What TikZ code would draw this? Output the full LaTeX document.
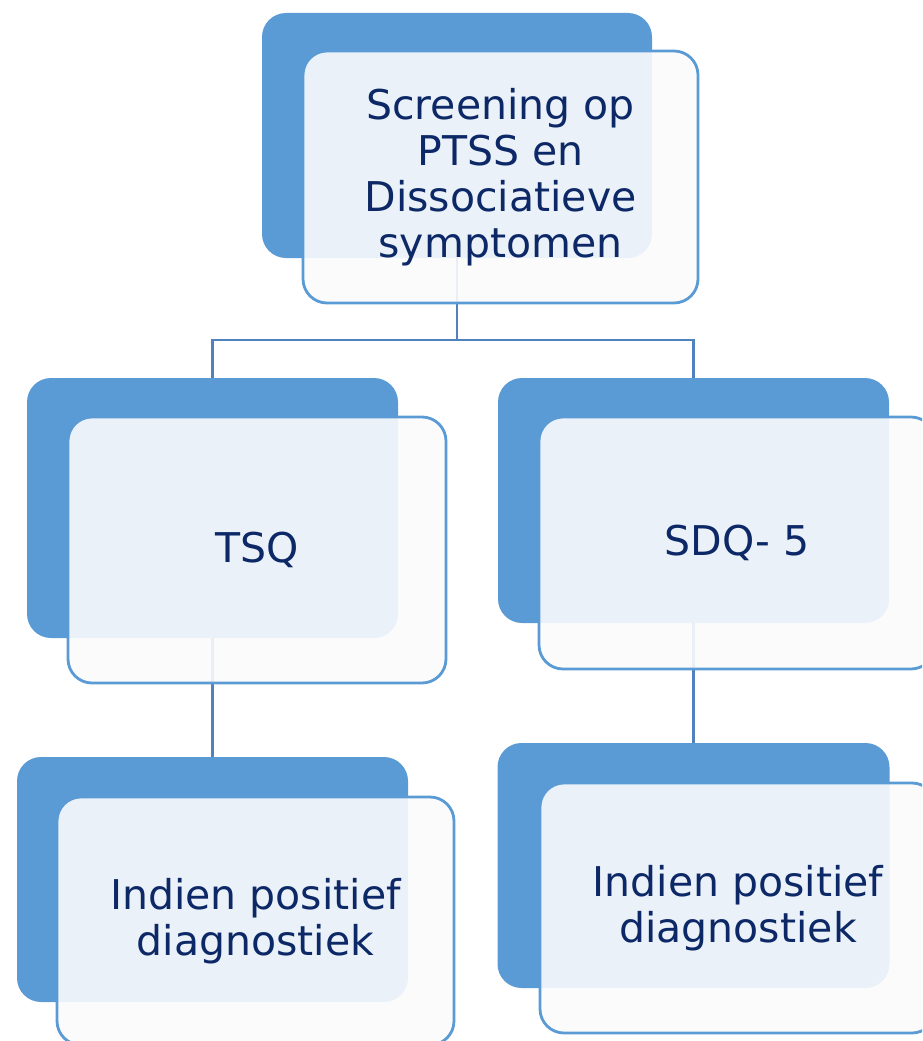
\documentclass[tikz,border=0pt]{standalone}
\usepackage{fontspec}
\setmainfont{DejaVu Sans}
\definecolor{backblue}{RGB}{91,155,213}
\definecolor{edgeblue}{RGB}{91,155,213}
\definecolor{linkblue}{RGB}{80,130,190}
\definecolor{frontfill}{RGB}{251,251,252}
\definecolor{navy}{RGB}{12,40,102}
\begin{document}
\begin{tikzpicture}[x=1pt,y=-1pt,
  backbox/.style={rectangle, rounded corners=24pt, fill=backblue, inner sep=0pt, draw=none},
  frontbox/.style={rectangle, rounded corners=24pt, fill=frontfill, fill opacity=0.9, text opacity=1,
    draw=edgeblue, line width=2.8pt, inner sep=0pt, align=center, text=navy,
    font=\fontsize{41pt}{46pt}\selectfont},
  link/.style={draw=linkblue, line width=2.8pt}]
\useasboundingbox (0,0) rectangle (922,1041);
\clip (0,0) rectangle (922,1041);
% back boxes
\node[backbox, minimum width=390pt, minimum height=245pt] (topB) at (457,135.5) {};
\node[backbox, minimum width=371pt, minimum height=260pt] (tsqB) at (212.5,508) {};
\node[backbox, minimum width=391pt, minimum height=245pt] (sdqB) at (693.5,500.5) {};
\node[backbox, minimum width=391pt, minimum height=245pt] (blB) at (212.5,879.5) {};
\node[backbox, minimum width=392pt, minimum height=245pt] (brB) at (693.5,865.5) {};
% connectors
\coordinate (j) at (457,340);
\draw[link] (topB.south) -- (j) -| (tsqB.north);
\draw[link] (j) -| (sdqB.north);
\draw[link] (tsqB.south) -- (blB.north);
\draw[link] (sdqB.south) -- (brB.north);
% front boxes
\node[frontbox, minimum width=395pt, minimum height=252pt] (top) at (500.5,177)
  {Screening op\\PTSS en\\Dissociatieve\\symptomen};
\node[frontbox, minimum width=378pt, minimum height=266pt] (tsq) at (257,550) {TSQ};
\node[frontbox, minimum width=396pt, minimum height=252pt] (sdq) at (737,543) {SDQ- 5};
\node[frontbox, minimum width=397pt, minimum height=248pt] (bl) at (255.5,921)
  {Indien positief\\diagnostiek};
\node[frontbox, minimum width=396pt, minimum height=250pt] (br) at (738,908)
  {Indien positief\\diagnostiek};
\end{tikzpicture}
\end{document}
